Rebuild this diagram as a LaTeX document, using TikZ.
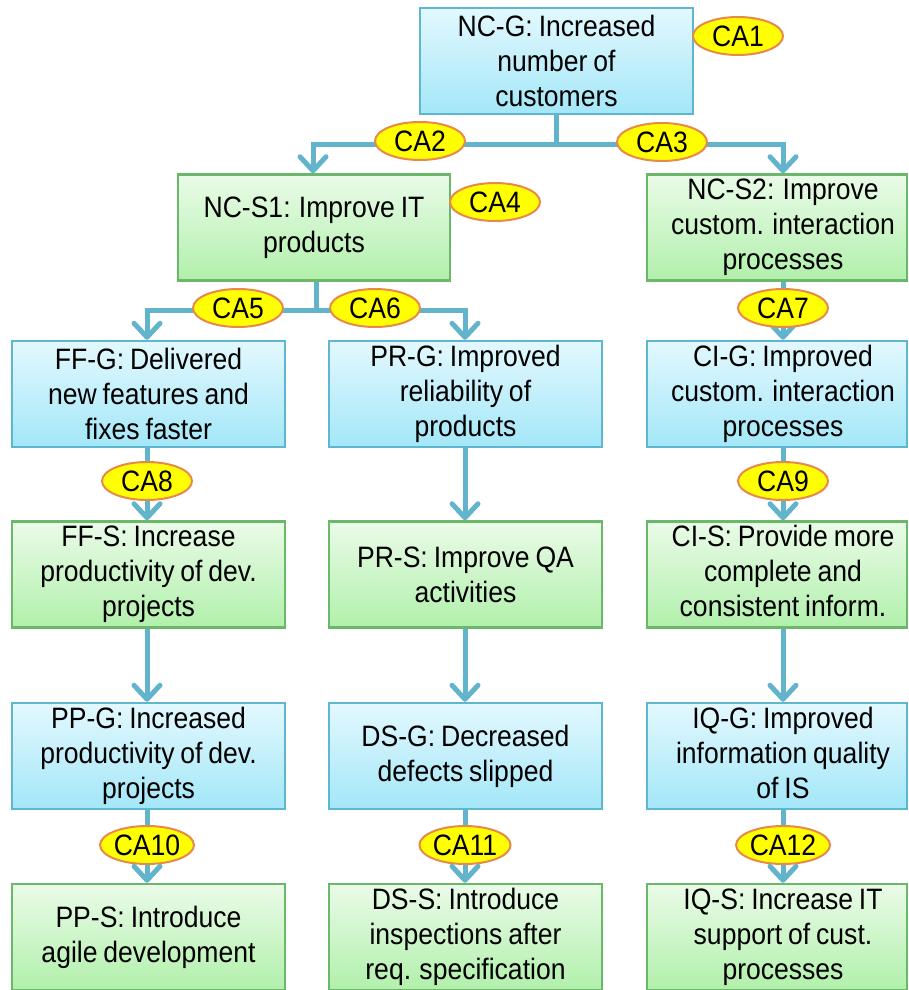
\documentclass[tikz,border=0pt]{standalone}
\usepackage{fontspec}
\setmainfont{Liberation Sans}[FakeStretch=0.9, WordSpace=0.8]
\usetikzlibrary{shapes.geometric,arrows.meta}
\definecolor{linkblue}{HTML}{62B3CC}
\definecolor{goalborder}{HTML}{5FB6CF}
\definecolor{goaltop}{HTML}{E3F8FE}
\definecolor{goalbot}{HTML}{A3E7F8}
\definecolor{stratborder}{HTML}{6CB86A}
\definecolor{strattop}{HTML}{EAFBE8}
\definecolor{stratbot}{HTML}{B1F0AB}
\definecolor{caborder}{HTML}{E8894B}
\definecolor{cafill}{HTML}{FFFF00}
% right-hand column: text sits a little right of the box centre
\newcommand{\rightcol}[1]{\begin{tabular}{@{\hspace{12pt}}c@{}}#1\end{tabular}}
\tikzset{
  txt/.style={font=\fontsize{29.5}{35}\selectfont, align=center, inner sep=0pt, text=black},
  goal/.style={txt, rectangle, draw=goalborder, line width=2.5pt, top color=goaltop, bottom color=goalbot,
    minimum width=273pt, minimum height=106pt},
  strat/.style={txt, rectangle, draw=stratborder, line width=2.5pt, top color=strattop, bottom color=stratbot,
    minimum width=273pt, minimum height=106pt},
  narrow/.style={minimum width=260pt},
  ca/.style={txt, ellipse, draw=caborder, fill=cafill, line width=2pt, minimum width=90pt, minimum height=38pt},
  link/.style={draw=linkblue, line width=5pt},
  linkarrow/.style={link, -{Straight Barb[length=14pt,width=26pt,round]}},
}
\begin{document}
\begin{tikzpicture}[x=1pt, y=-1pt]
\useasboundingbox (0,0) rectangle (908,990);

% top level
\node[goal] (ncg) at (556.5,61) {NC-G: Increased\\number of\\customers};
\node[strat] (ncs1) at (314,227.5) [minimum width=272pt] {NC-S1: Improve IT\\products};
\node[strat, narrow] (ncs2) at (777,227.5) {\rightcol{NC-S2: Improve\\custom. interaction\\processes}};

% row of goals
\node[goal] (ffg) at (148.5,394) {FF-G: Delivered\\new features and\\fixes faster};
\node[goal] (prg) at (465.5,394) {PR-G: Improved\\reliability of\\products};
\node[goal, narrow] (cig) at (777,394) {\rightcol{CI-G: Improved\\custom. interaction\\processes}};

% row of strategies
\node[strat] (ffs) at (148.5,574.5) {FF-S: Increase\\productivity of dev.\\projects};
\node[strat] (prs) at (465.5,574.5) {PR-S: Improve QA\\activities};
\node[strat, narrow] (cis) at (777,574.5) {\rightcol{CI-S: Provide more\\complete and\\consistent inform.}};

% row of goals
\node[goal] (ppg) at (148.5,756) {PP-G: Increased\\productivity of dev.\\projects};
\node[goal] (dsg) at (465.5,756) {DS-G: Decreased\\defects slipped};
\node[goal, narrow] (iqg) at (777,756) {\rightcol{IQ-G: Improved\\information quality\\of IS}};

% bottom strategies
\node[strat] (pps) at (148.5,937) {PP-S: Introduce\\agile development};
\node[strat] (dss) at (465.5,937) {DS-S: Introduce\\inspections after\\req. specification};
\node[strat, narrow] (iqs) at (777,937) {\rightcol{IQ-S: Increase IT\\support of cust.\\processes}};

% fork below NC-G
\coordinate (fork1) at (ncg.south |- 0,144);
\draw[link] (ncg.south) -- (fork1);
\draw[linkarrow] (fork1) -| ([xshift=-1pt]ncs1.north);
\draw[linkarrow] (fork1) -| ([xshift=6pt]ncs2.north);

% fork below NC-S1
\coordinate (fork2) at ([xshift=2pt]ncs1.south |- 0,310);
\draw[link] ([xshift=2pt]ncs1.south) -- (fork2);
\draw[linkarrow] (fork2) -| ([xshift=-1.5pt]ffg.north);
\draw[linkarrow] (fork2) -| ([xshift=-0.5pt]prg.north);

% vertical links, right column
\draw[linkarrow] ([xshift=6pt]ncs2.south) -- ([xshift=6pt]cig.north);
\draw[linkarrow] ([xshift=6pt]cig.south) -- ([xshift=6pt]cis.north);
\draw[linkarrow] ([xshift=6pt]cis.south) -- ([xshift=6pt]iqg.north);
\draw[linkarrow] ([xshift=6pt]iqg.south) -- ([xshift=6pt]iqs.north);
% left column
\draw[linkarrow] ([xshift=-1.5pt]ffg.south) -- ([xshift=-1.5pt]ffs.north);
\draw[linkarrow] ([xshift=-1.5pt]ffs.south) -- ([xshift=-1.5pt]ppg.north);
\draw[linkarrow] ([xshift=-1.5pt]ppg.south) -- ([xshift=-1.5pt]pps.north);
% middle column
\draw[linkarrow] ([xshift=-0.5pt]prg.south) -- ([xshift=-0.5pt]prs.north);
\draw[linkarrow] ([xshift=-0.5pt]prs.south) -- ([xshift=-0.5pt]dsg.north);
\draw[linkarrow] ([xshift=-0.5pt]dsg.south) -- ([xshift=-0.5pt]dss.north);

% labels on the links
\node[ca] (ca1) at (738,36) {CA1};
\node[ca] (ca2) at (420,141) {CA2};
\node[ca] (ca3) at (662,142) {CA3};
\node[ca] (ca4) at (495,202) {CA4};
\node[ca] (ca5) at (238,308) {CA5};
\node[ca] (ca6) at (375,308) {CA6};
\node[ca] (ca7) at (783,308) {CA7};
\node[ca] (ca8) at (147,481) {CA8};
\node[ca] (ca9) at (783,481) {CA9};
\node[ca] (ca10) at (147,845) {CA10};
\node[ca] (ca11) at (465,845) {CA11};
\node[ca] (ca12) at (783,845) {CA12};
\end{tikzpicture}
\end{document}
